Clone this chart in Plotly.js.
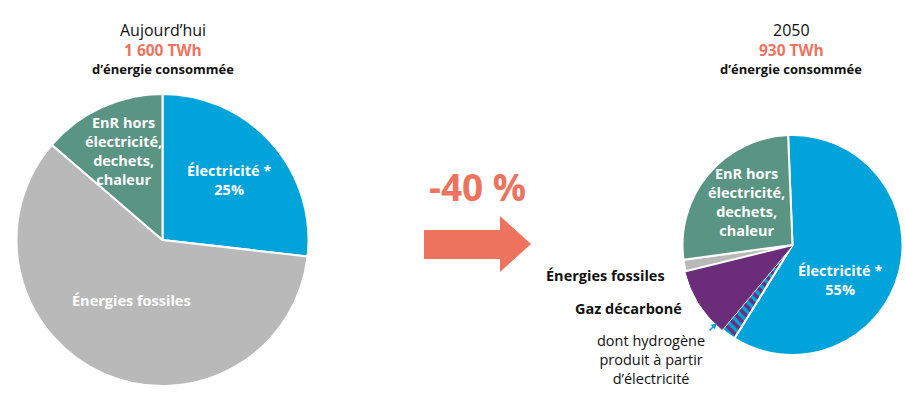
<!DOCTYPE html>
<html><head><meta charset="utf-8">
<script src="https://cdn.plot.ly/plotly-3.0.1.min.js"></script>
<style>html,body{margin:0;padding:0;background:#fff}#chart{width:905px;height:394px}</style>
</head><body><div id="chart"></div>
<script>
// ---- data ----
const todayLabels = ["Électricité *", "Énergies fossiles", "EnR hors électricité, dechets, chaleur"];
const todayValues = [26.8, 59.5, 13.7];
const futureLabels = ["Électricité *", "dont hydrogène produit à partir d'électricité", "Gaz décarboné", "Énergies fossiles", "EnR hors électricité, dechets, chaleur"];
const futureValues = [59.5, 2.2, 10.1, 1.7, 26.5];
const headerToday = ["Aujourd’hui", "1 600 TWh", "d’énergie consommée"];
const headerFuture = ["2050", "930 TWh", "d’énergie consommée"];
const changeLabel = "-40 %";
const todaySliceText = ["Électricité *<br>25%", "Énergies fossiles", "EnR hors<br>électricité,<br>dechets,<br>chaleur"];
const futureSliceText = ["Électricité *<br>55%", "EnR hors<br>électricité,<br>dechets,<br>chaleur"];
const futureSideText = ["Énergies fossiles", "Gaz décarboné", "dont hydrogène<br>produit à partir<br>d’électricité"];

// ---- style ----
const W = 905, H = 394;
const BLUE = "#00A3DA", TEAL = "#5A9483", GREY = "#B9B9B9", PURPLE = "#6B2D7A", SALMON = "#EE735E";
const FONT = "Open Sans";
const px = x => x / W, py = y => 1 - y / H;

const traces = [
  {
    type: "pie", values: todayValues, labels: todayLabels, sort: false,
    direction: "clockwise", rotation: 0,
    marker: {colors: [BLUE, GREY, TEAL], line: {color: "#fff", width: 2}},
    textinfo: "none", hoverinfo: "label+value",
    domain: {x: [px(16.5), px(308.5)], y: [py(386), py(94)]},
    showlegend: false
  },
  {
    type: "pie", values: futureValues, labels: futureLabels, sort: false,
    direction: "clockwise", rotation: -2.3,
    marker: {
      colors: [BLUE, PURPLE, PURPLE, GREY, TEAL],
      line: {color: ["#fff", "#fff", PURPLE, "#fff", "#fff"], width: [2, 2, 1, 2, 2]},
      pattern: {shape: ["", "\\", "", "", ""], fgcolor: BLUE, bgcolor: PURPLE, size: 7, solidity: 0.5, fillmode: "replace"}
    },
    textinfo: "none", hoverinfo: "label+value",
    domain: {x: [px(682.5), px(902.5)], y: [py(355), py(135)]},
    showlegend: false
  }
];

function ann(x, y, text, size, color, weight, align, xanchor) {
  return {xref: "paper", yref: "paper", x: px(x), y: py(y), text: text, showarrow: false,
    xanchor: xanchor || "center", yanchor: "middle", align: align || "center",
    font: {family: FONT, size: size, color: color, weight: weight || 400}};
}

const annotations = [
  ann(163, 30, headerToday[0], 16, "#111", 400),
  ann(163, 50, headerToday[1], 15.5, SALMON, 700),
  ann(163, 69, headerToday[2], 13, "#111", 700),
  ann(791, 30, headerFuture[0], 16, "#111", 400),
  ann(791, 50, headerFuture[1], 15.5, SALMON, 700),
  ann(791, 69, headerFuture[2], 13, "#111", 700),
  ann(477, 186, changeLabel, 37, SALMON, 700),
  ann(229, 180, todaySliceText[0], 14.5, "#fff", 700),
  ann(131, 300, todaySliceText[1], 14.5, "#fff", 700),
  ann(124, 151, todaySliceText[2], 14.5, "#fff", 700),
  ann(840, 280, futureSliceText[0], 14.5, "#fff", 700),
  ann(746, 202, futureSliceText[1], 14.5, "#fff", 700),
  ann(667, 275, futureSideText[0], 14.5, "#111", 700, "right", "right"),
  ann(684, 308, futureSideText[1], 14.5, "#111", 700, "right", "right"),
  ann(651, 359, futureSideText[2], 14.5, "#111", 400),
  {xref: "paper", yref: "paper", x: px(717), y: py(323), ax: -9, ay: 9, text: "", showarrow: true,
    arrowcolor: BLUE, arrowwidth: 1.5, arrowhead: 2, arrowsize: 0.8}
];

const P = (x, y) => px(x).toFixed(5) + "," + py(y).toFixed(5);
const arrowPath = "M" + P(424, 230) + " L" + P(500, 230) + " L" + P(500, 216) + " L" + P(531, 244) +
  " L" + P(500, 272) + " L" + P(500, 259) + " L" + P(424, 259) + " Z";

const layout = {
  width: W, height: H, margin: {l: 0, r: 0, t: 0, b: 0},
  paper_bgcolor: "#fff", plot_bgcolor: "#fff",
  font: {family: FONT},
  annotations: annotations,
  shapes: [{type: "path", xref: "paper", yref: "paper", path: arrowPath, fillcolor: SALMON, line: {width: 0}}]
};

Plotly.newPlot("chart", traces, layout, {displayModeBar: false, staticPlot: true});
</script>
</body></html>
